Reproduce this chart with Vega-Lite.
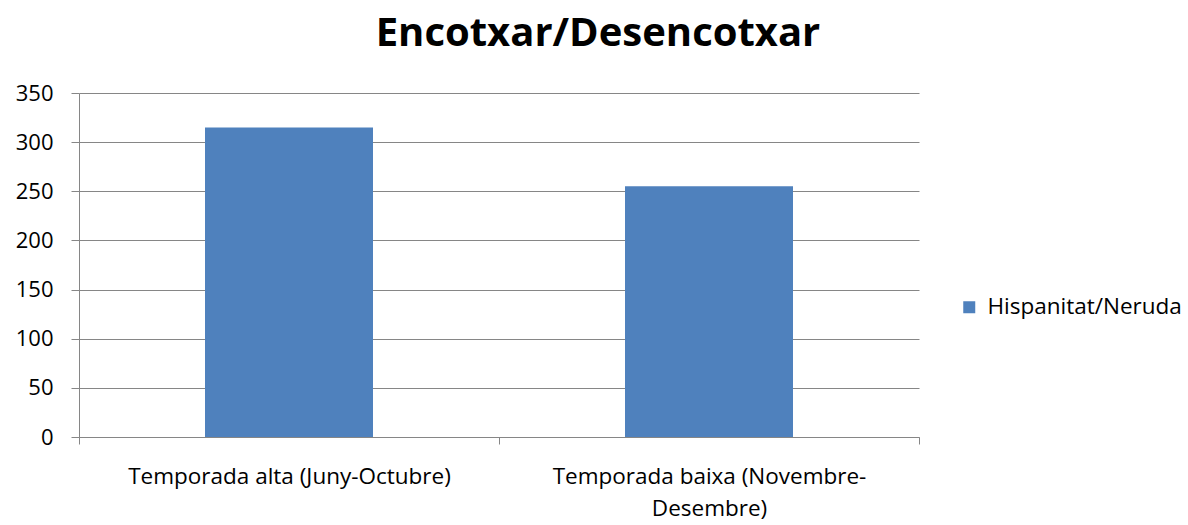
{
  "$schema": "https://vega.github.io/schema/vega-lite/v6.json",
  "autosize": {"type": "none"},
  "width": 840,
  "height": 344,
  "padding": {"left": 79, "top": 93, "right": 269, "bottom": 88},
  "background": "white",
  "title": {
    "text": "Encotxar/Desencotxar",
    "font": "Open Sans",
    "fontSize": 40,
    "fontWeight": "bold",
    "color": "#000000",
    "anchor": "middle",
    "dx": 99,
    "offset": 28
  },
  "data": {
    "values": [
      {"temporada": "Temporada alta (Juny-Octubre)", "valor": 315, "serie": "Hispanitat/Neruda"},
      {"temporada": "Temporada baixa (Novembre-Desembre)", "valor": 255, "serie": "Hispanitat/Neruda"}
    ]
  },
  "mark": {"type": "bar", "color": "#4F81BD", "width": {"band": 0.4}},
  "encoding": {
    "x": {
      "field": "temporada",
      "type": "nominal",
      "sort": null,
      "title": null,
      "scale": {"paddingInner": 0, "paddingOuter": 0},
      "axis": {
        "labelAngle": 0,
        "labelFont": "Open Sans",
        "labelFontSize": 22.5,
        "labelColor": "#000000",
        "labelPadding": 21,
        "labelLineHeight": 32,
        "labelLimit": 500,
        "labelExpr": "datum.label == 'Temporada baixa (Novembre-Desembre)' ? ['Temporada baixa (Novembre-', 'Desembre)'] : datum.label",
        "tickBand": "extent",
        "tickSize": 7,
        "tickColor": "#868686",
        "domainColor": "#868686",
        "grid": false
      }
    },
    "y": {
      "field": "valor",
      "type": "quantitative",
      "title": null,
      "scale": {"domain": [0, 350], "nice": false},
      "axis": {
        "values": [0, 50, 100, 150, 200, 250, 300, 350],
        "labelFont": "Open Sans",
        "labelFontSize": 22,
        "labelColor": "#000000",
        "labelPadding": 18,
        "tickSize": 8,
        "tickColor": "#868686",
        "domainColor": "#868686",
        "gridColor": "#868686",
        "grid": true
      }
    },
    "fill": {
      "field": "serie",
      "type": "nominal",
      "scale": {"range": ["#4F81BD"]},
      "legend": {
        "title": null,
        "orient": "none",
        "legendX": 879,
        "legendY": 203,
        "symbolType": "square",
        "symbolSize": 144,
        "symbolStrokeWidth": 0,
        "labelFont": "Open Sans",
        "labelFontSize": 22.5,
        "labelLimit": 400,
        "labelColor": "#000000",
        "labelOffset": 7
      }
    }
  },
  "config": {"view": {"stroke": null}}
}
